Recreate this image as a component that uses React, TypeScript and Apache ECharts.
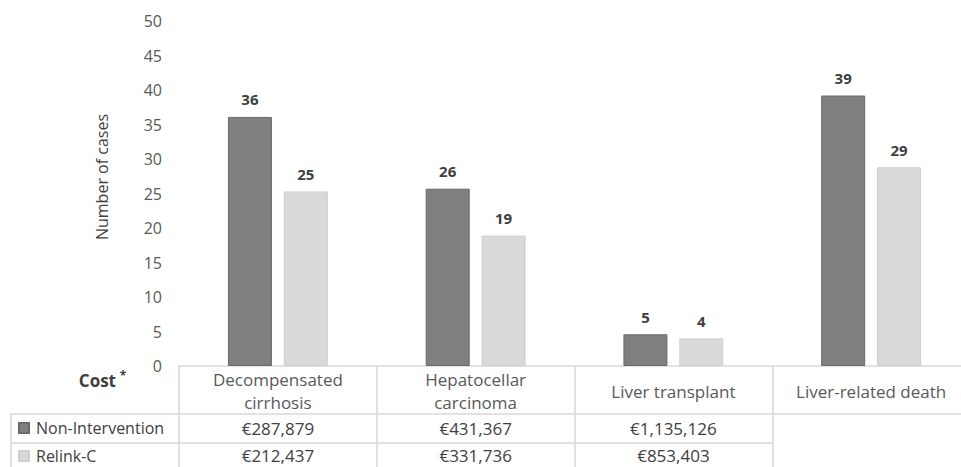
import React, { useEffect, useRef } from "react";
import * as echarts from "echarts";

const categories = ["Decompensated\ncirrhosis", "Hepatocellar\ncarcinoma", "Liver transplant", "Liver-related death"];
const seriesNames = ["Non-Intervention", "Relink-C"];
const nonIntervention = [36.1, 25.7, 4.6, 39.2];
const relinkC = [25.3, 18.9, 4.0, 28.8];
const costNonIntervention = ["€287,879", "€431,367", "€1,135,126", ""];
const costRelinkC = ["€212,437", "€331,736", "€853,403", ""];
const yTicks = { min: 0, max: 50, interval: 5 };

const FONT = "'Open Sans', sans-serif";
const LINE = "#d9d9d9";

export default function App() {
  const ref = useRef<HTMLDivElement>(null);
  useEffect(() => {
    if (!ref.current) return;
    const chart = echarts.init(ref.current, undefined, { renderer: "svg" });
    const gridLeft = 179;
    const gridTop = 21;
    const gridWidth = 791;
    const gridHeight = 345;
    const colW = gridWidth / categories.length;
    const row1Top = 414;
    const row2Top = 443;
    const valueTexts: any[] = [];
    [costNonIntervention, costRelinkC].forEach((row, r) => {
      row.forEach((v, i) => {
        if (!v) return;
        valueTexts.push({
          type: "text",
          x: gridLeft + colW * (i + 0.5),
          y: r === 0 ? 428.5 : 455.5,
          style: {
            text: v,
            fill: "#404040",
            font: `17px ${FONT}`,
            textAlign: "center",
            textVerticalAlign: "middle",
          },
        });
      });
    });
    const lastFilled = costNonIntervention.filter((v) => v).length;
    chart.setOption({
      animation: false,
      grid: { left: gridLeft, top: gridTop, width: gridWidth, height: gridHeight },
      legend: {
        orient: "vertical",
        left: 18,
        top: 420,
        padding: 0,
        itemGap: 12,
        itemWidth: 10,
        itemHeight: 10,
        icon: "rect",
        data: seriesNames,
        textStyle: { color: "#404040", fontSize: 16, fontFamily: FONT, padding: [0, 0, 0, 2] },
      },
      xAxis: {
        type: "category",
        data: categories,
        axisLine: { show: true, lineStyle: { color: LINE, width: 1.5 } },
        axisTick: { show: true, length: 110, lineStyle: { color: LINE, width: 1.5 } },
        axisLabel: {
          interval: 0,
          margin: 25,
          verticalAlign: "middle",
          color: "#595959",
          fontSize: 17,
          fontFamily: FONT,
          lineHeight: 23,
        },
      },
      yAxis: {
        type: "value",
        min: yTicks.min,
        max: yTicks.max,
        interval: yTicks.interval,
        splitLine: { show: false },
        axisLine: { show: false },
        axisTick: { show: false },
        axisLabel: { color: "#595959", fontSize: 16, fontFamily: FONT, margin: 17 },
      },
      series: [
        {
          name: seriesNames[0],
          type: "bar",
          data: nonIntervention,
          barWidth: 44,
          barGap: "27%",
          itemStyle: { color: "#7f7f7f", borderColor: "#6a6a6a", borderWidth: 1 },
          label: {
            show: true,
            position: "top",
            distance: 10,
            formatter: (p: any) => String(Math.round(p.value)),
            color: "#404040",
            fontWeight: "bold",
            fontSize: 15,
            fontFamily: FONT,
          },
        },
        {
          name: seriesNames[1],
          type: "bar",
          data: relinkC,
          barWidth: 44,
          itemStyle: { color: "#d9d9d9", borderColor: "#cfcfcf", borderWidth: 1 },
          label: {
            show: true,
            position: "top",
            distance: 10,
            formatter: (p: any) => String(Math.round(p.value)),
            color: "#404040",
            fontWeight: "bold",
            fontSize: 15,
            fontFamily: FONT,
          },
        },
      ],
      graphic: [
        {
          type: "text",
          x: 102,
          y: 177,
          rotation: Math.PI / 2,
          style: {
            text: "Number of cases",
            fill: "#404040",
            font: `16px ${FONT}`,
            textAlign: "center",
            textVerticalAlign: "middle",
          },
        },
        {
          type: "text",
          x: 116,
          y: 380,
          style: {
            text: "Cost",
            fill: "#404040",
            font: `bold 17px ${FONT}`,
            textAlign: "right",
            textVerticalAlign: "middle",
          },
        },
        {
          type: "text",
          x: 123,
          y: 375,
          style: {
            text: "*",
            fill: "#404040",
            font: `bold 12px ${FONT}`,
            textAlign: "center",
            textVerticalAlign: "middle",
          },
        },
        { type: "line", shape: { x1: 11, y1: row1Top, x2: 975, y2: row1Top }, style: { stroke: LINE, lineWidth: 1.5 } },
        { type: "line", shape: { x1: 11, y1: row2Top, x2: gridLeft + colW * lastFilled, y2: row2Top }, style: { stroke: LINE, lineWidth: 1.5 } },
        { type: "line", shape: { x1: 11, y1: row1Top, x2: 11, y2: 467 }, style: { stroke: LINE, lineWidth: 1.5 } },
        ...valueTexts,
      ],
    });
    return () => chart.dispose();
  }, []);
  return (
    <div style={{ position: "fixed", left: 0, top: 0, width: 961, height: 467, overflow: "hidden", background: "#fff" }}>
      <div ref={ref} style={{ width: 980, height: 467 }} />
    </div>
  );
}
